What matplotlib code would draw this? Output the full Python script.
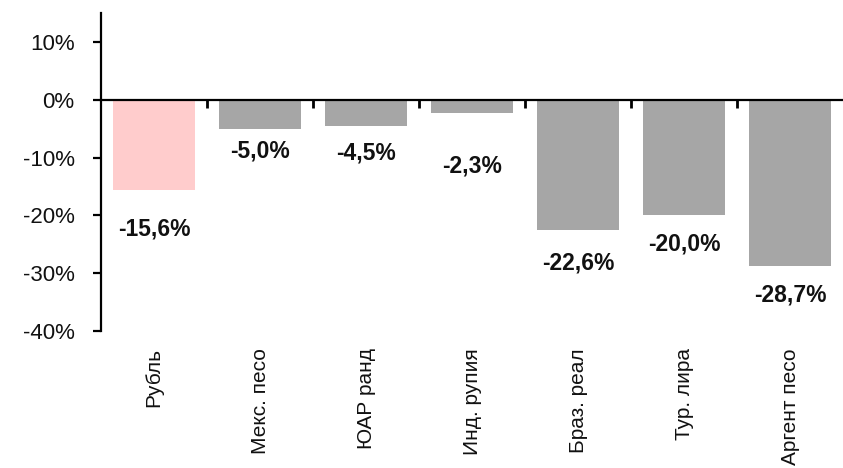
import numpy as np
import matplotlib
matplotlib.use("Agg")
import matplotlib.pyplot as plt
from matplotlib.ticker import FuncFormatter

## DATOS

categorias = ["Рубль", "Мекс. песо", "ЮАР ранд", "Инд. рупия",
              "Браз. реал", "Тур. лира", "Аргент песо"]
valores = [-15.6, -5.0, -4.5, -2.3, -22.6, -20.0, -28.7]
colores = ["#ffcccc"] + ["#a6a6a6"] * 6

# desplazamiento de cada etiqueta bajo la barra (puntos)
desplaz = [20, 8, 11, 30, 15, 12, 13]

##################

plt.rcParams['font.family'] = ['Liberation Sans', 'DejaVu Sans']

fig = plt.figure(figsize=(8.43, 4.68), dpi=100)
ax = fig.add_axes([101/843, 1 - 331/468, 742/843, 318/468])

x = np.arange(len(categorias))
ax.bar(x, valores, width=0.78, color=colores, zorder=2)

# Etiquetas de valor
for xi, v, d in zip(x, valores, desplaz):
    txt = f"{v:.1f}%".replace(".", ",")
    ax.annotate(txt, (xi, v), xytext=(0, -d), textcoords="offset points",
                ha="center", va="top", fontsize=16.5, fontweight="bold",
                color="#111111")

ax.set_xlim(-0.5, len(categorias) - 0.5)
ax.set_ylim(-40, 15)
ax.set_yticks(np.arange(-40, 11, 10))
ax.yaxis.set_major_formatter(FuncFormatter(lambda v, p: f"{v:.0f}%"))

# Ejes: izquierdo normal, linea de cero con marcas entre categorias
for s in ["right", "bottom"]:
    ax.spines[s].set_visible(False)
ax.spines["top"].set_position(("data", 0))
ax.spines["top"].set_linewidth(1.6)
ax.spines["left"].set_linewidth(1.6)
ax.spines["top"].set_zorder(3)

ax.set_xticks(x)
ax.set_xticklabels(categorias, rotation=90, va="top", ha="center")
ax.set_xticks(x[:-1] + 0.5, minor=True)
ax.tick_params(axis="x", which="major", bottom=False, top=False,
               labelbottom=True, labeltop=False, labelsize=15, pad=9,
               labelcolor="#111111")
ax.tick_params(axis="x", which="minor", bottom=False, top=True,
               direction="in", length=6, width=2)
ax.tick_params(axis="y", which="major", direction="out", length=6, width=1.6,
               labelsize=16, pad=13, labelcolor="#111111")

fig.savefig("out.png", dpi=100)
